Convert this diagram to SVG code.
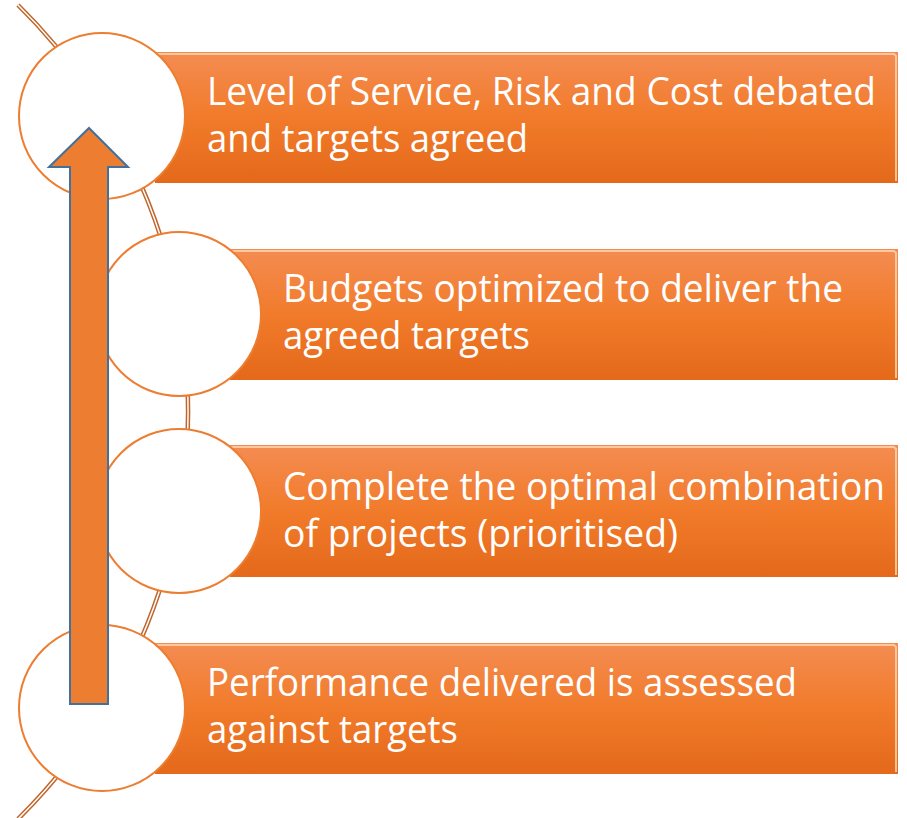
<svg xmlns="http://www.w3.org/2000/svg" width="907" height="818" viewBox="0 0 907 818">
<defs>
<linearGradient id="boxg" x1="0" y1="0" x2="0" y2="1">
<stop offset="0" stop-color="#F48C52"/>
<stop offset="0.5" stop-color="#F17B2A"/>
<stop offset="1" stop-color="#E4691A"/>
</linearGradient>
<style>
.box{fill:url(#boxg);}
.bev{fill:none;stroke:#FCD2AE;stroke-width:2;stroke-opacity:0.85;}
.circ{fill:#FFFFFF;stroke:#ED7D31;stroke-width:2;}
.txt{font-family:"Open Sans","DejaVu Sans",sans-serif;font-size:37.5px;fill:#FFFFFF;}
.arcO{fill:none;stroke:#C0662B;stroke-width:4.5;}
.arcI{fill:none;stroke:#FFFFFF;stroke-width:1.5;}
</style>
</defs>
<rect width="907" height="818" fill="#FFFFFF"/>
<g id="connectors">
<path class="arcO" d="M 18 5 A 572 572 0 0 1 18 819"/>
<path class="arcI" d="M 18 5 A 572 572 0 0 1 18 819"/>
</g>
<g id="node1">
<rect class="box" x="155" y="52" width="743" height="131"/>
<path class="bev" d="M 156 54 H 894 L 896 56 V 181"/>
<circle class="circ" cx="102" cy="116" r="83"/>
<text class="txt" x="207" y="105" textLength="669" lengthAdjust="spacingAndGlyphs">Level of Service, Risk and Cost debated</text>
<text class="txt" x="207" y="152" textLength="321" lengthAdjust="spacingAndGlyphs">and targets agreed</text>
</g>
<g id="node2">
<rect class="box" x="230" y="249" width="668" height="131"/>
<path class="bev" d="M 231 251 H 894 L 896 253 V 378"/>
<circle class="circ" cx="179" cy="314" r="82"/>
<text class="txt" x="283" y="302" textLength="560" lengthAdjust="spacingAndGlyphs">Budgets optimized to deliver the</text>
<text class="txt" x="283" y="349" textLength="247" lengthAdjust="spacingAndGlyphs">agreed targets</text>
</g>
<g id="node3">
<rect class="box" x="230" y="445" width="668" height="132"/>
<path class="bev" d="M 231 447 H 894 L 896 449 V 575"/>
<circle class="circ" cx="179" cy="511" r="82"/>
<text class="txt" x="283" y="500" textLength="602" lengthAdjust="spacingAndGlyphs">Complete the optimal combination</text>
<text class="txt" x="283" y="547" textLength="395" lengthAdjust="spacingAndGlyphs">of projects (prioritised)</text>
</g>
<g id="node4">
<rect class="box" x="155" y="643" width="743" height="131"/>
<path class="bev" d="M 156 645 H 894 L 896 647 V 772"/>
<circle class="circ" cx="102" cy="708" r="83"/>
<text class="txt" x="207" y="696" textLength="590" lengthAdjust="spacingAndGlyphs">Performance delivered is assessed</text>
<text class="txt" x="207" y="743" textLength="251" lengthAdjust="spacingAndGlyphs">against targets</text>
</g>
<g id="arrow">
<polygon points="89,128 128,167 108,167 108,704 70,704 70,167 49,167" fill="#ED7D31" stroke="#41719C" stroke-width="2" stroke-linejoin="miter"/>
</g>
</svg>
